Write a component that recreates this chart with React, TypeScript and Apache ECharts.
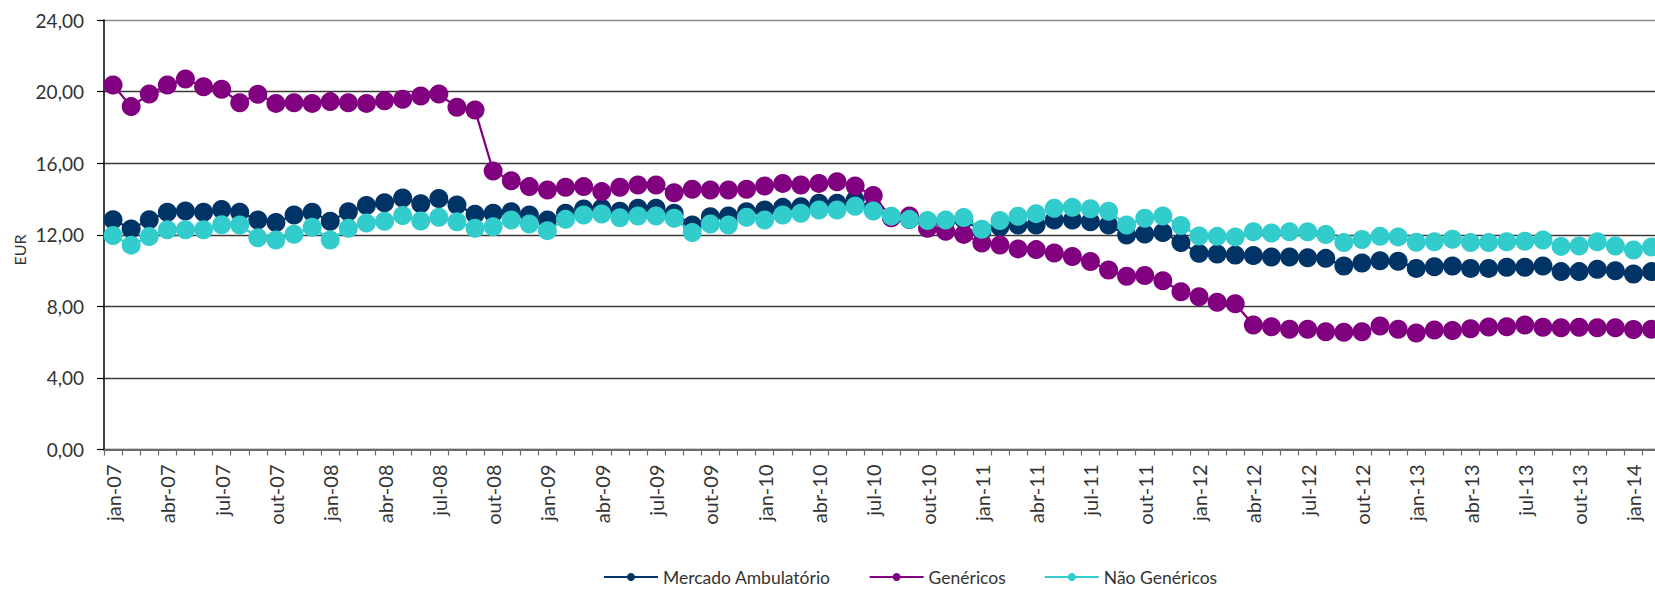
import React, { useEffect, useRef } from "react";
import * as echarts from "echarts";

const categories = [
  "jan-07","fev-07","mar-07","abr-07","mai-07","jun-07","jul-07","ago-07","set-07","out-07","nov-07","dez-07",
  "jan-08","fev-08","mar-08","abr-08","mai-08","jun-08","jul-08","ago-08","set-08","out-08","nov-08","dez-08",
  "jan-09","fev-09","mar-09","abr-09","mai-09","jun-09","jul-09","ago-09","set-09","out-09","nov-09","dez-09",
  "jan-10","fev-10","mar-10","abr-10","mai-10","jun-10","jul-10","ago-10","set-10","out-10","nov-10","dez-10",
  "jan-11","fev-11","mar-11","abr-11","mai-11","jun-11","jul-11","ago-11","set-11","out-11","nov-11","dez-11",
  "jan-12","fev-12","mar-12","abr-12","mai-12","jun-12","jul-12","ago-12","set-12","out-12","nov-12","dez-12",
  "jan-13","fev-13","mar-13","abr-13","mai-13","jun-13","jul-13","ago-13","set-13","out-13","nov-13","dez-13",
  "jan-14","fev-14",
];

const mercadoAmbulatorio = [
  12.84,12.32,12.84,13.26,13.33,13.26,13.41,13.26,12.82,12.68,13.10,13.26,
  12.76,13.28,13.64,13.79,14.05,13.73,14.03,13.66,13.14,13.20,13.29,13.10,
  12.82,13.20,13.44,13.48,13.32,13.48,13.48,13.20,12.54,13.01,13.05,13.29,
  13.38,13.53,13.57,13.76,13.76,13.94,13.50,13.00,12.85,12.75,12.75,12.85,
  12.20,12.45,12.54,12.54,12.82,12.82,12.73,12.54,11.99,12.04,12.12,11.56,
  10.96,10.92,10.87,10.84,10.76,10.76,10.71,10.68,10.25,10.42,10.55,10.52,
  10.12,10.21,10.25,10.12,10.12,10.18,10.18,10.25,9.94,9.94,10.07,9.99,
  9.81,9.94,
];

const genericos = [
  20.37,19.16,19.86,20.37,20.70,20.27,20.13,19.38,19.85,19.34,19.38,19.34,
  19.44,19.38,19.34,19.49,19.57,19.75,19.86,19.12,18.97,15.56,15.02,14.69,
  14.50,14.65,14.69,14.41,14.65,14.78,14.78,14.35,14.54,14.50,14.50,14.54,
  14.72,14.87,14.78,14.87,14.96,14.72,14.20,12.95,13.05,12.36,12.19,12.02,
  11.54,11.43,11.21,11.17,10.98,10.78,10.50,10.03,9.68,9.72,9.43,8.82,
  8.54,8.23,8.15,6.96,6.86,6.72,6.72,6.58,6.55,6.58,6.90,6.72,
  6.51,6.68,6.65,6.75,6.85,6.86,6.96,6.83,6.80,6.83,6.80,6.80,
  6.70,6.72,
];

const naoGenericos = [
  11.96,11.42,11.90,12.28,12.28,12.28,12.56,12.54,11.83,11.71,12.03,12.42,
  11.71,12.36,12.65,12.75,13.07,12.77,12.98,12.73,12.36,12.45,12.82,12.60,
  12.23,12.86,13.10,13.16,12.95,13.05,13.05,12.92,12.12,12.60,12.54,12.98,
  12.82,13.10,13.20,13.38,13.38,13.59,13.33,13.04,12.86,12.80,12.82,12.96,
  12.31,12.80,13.03,13.18,13.48,13.53,13.45,13.31,12.54,12.92,13.05,12.52,
  11.93,11.91,11.88,12.17,12.10,12.17,12.17,12.01,11.56,11.73,11.91,11.88,
  11.58,11.61,11.75,11.56,11.56,11.61,11.64,11.71,11.35,11.37,11.61,11.37,
  11.15,11.32,
];

const seriesNames = ["Mercado Ambulatório", "Genéricos", "Não Genéricos"];
const seriesColors = ["#003366", "#800080", "#33CCCC"];
const yTicks = { min: 0, max: 24, interval: 4 };
const yAxisTitle = "EUR";

const FONT = "Lato";

export default function App() {
  const ref = useRef<HTMLDivElement>(null);

  useEffect(() => {
    if (!ref.current) return;
    const chart = echarts.init(ref.current, null, { renderer: "svg" });
    const dataSets = [mercadoAmbulatorio, genericos, naoGenericos];
    const catWidth = 18.1;
    chart.setOption({
      animation: false,
      backgroundColor: "#ffffff",
      grid: {
        left: 104,
        top: 20,
        width: catWidth * categories.length,
        height: 429.5,
        containLabel: false,
      },
      legend: {
        left: 603,
        top: 568,
        padding: 0,
        itemWidth: 54,
        itemHeight: 10,
        itemGap: 38,
        textStyle: { fontFamily: FONT, fontSize: 17.5, lineHeight: 18, color: "#333333" },
        data: seriesNames,
      },
      graphic: [
        {
          type: "text",
          x: 19,
          y: 250,
          rotation: Math.PI / 2,
          style: {
            text: yAxisTitle,
            fontFamily: FONT,
            fontSize: 16,
            fill: "#333333",
            textAlign: "center",
            textVerticalAlign: "middle",
          },
        },
      ],
      xAxis: {
        type: "category",
        data: categories,
        boundaryGap: true,
        axisLine: { show: true, lineStyle: { color: "#6b6b6b", width: 2 } },
        axisTick: { show: true, interval: 0, length: 6, lineStyle: { color: "#6b6b6b", width: 1.2 } },
        axisLabel: {
          interval: 2,
          rotate: 90,
          margin: 15,
          fontFamily: FONT,
          fontSize: 20,
          color: "#333333",
        },
        splitLine: { show: false },
      },
      yAxis: {
        type: "value",
        min: yTicks.min,
        max: yTicks.max,
        interval: yTicks.interval,
        axisLine: { show: true, lineStyle: { color: "#000000", width: 1.5 } },
        axisTick: { show: true, length: 7, lineStyle: { color: "#000000", width: 1.2 } },
        axisLabel: {
          margin: 20,
          fontFamily: FONT,
          fontSize: 19,
          color: "#333333",
          formatter: (v: number) => v.toFixed(2).replace(".", ","),
        },
        splitLine: {
          show: true,
          lineStyle: {
            color: ["#3a3a3a", "#3a3a3a", "#3a3a3a", "#3a3a3a", "#3a3a3a", "#3a3a3a", "#8c8c8c"],
            width: 1.4,
          },
        },
      },
      series: seriesNames.map((name, i) => ({
        name,
        type: "line",
        data: dataSets[i],
        symbol: "circle",
        symbolSize: 19,
        showAllSymbol: true,
        itemStyle: { color: seriesColors[i] },
        lineStyle: { color: seriesColors[i], width: 2.25 },
        z: 2 + i,
      })),
    });
    return () => chart.dispose();
  }, []);

  return (
    <div
      style={{
        position: "fixed",
        left: 0,
        top: 0,
        width: 1655,
        height: 590,
        overflow: "hidden",
        background: "#ffffff",
      }}
    >
      <div ref={ref} style={{ width: 1700, height: 590 }} />
    </div>
  );
}
